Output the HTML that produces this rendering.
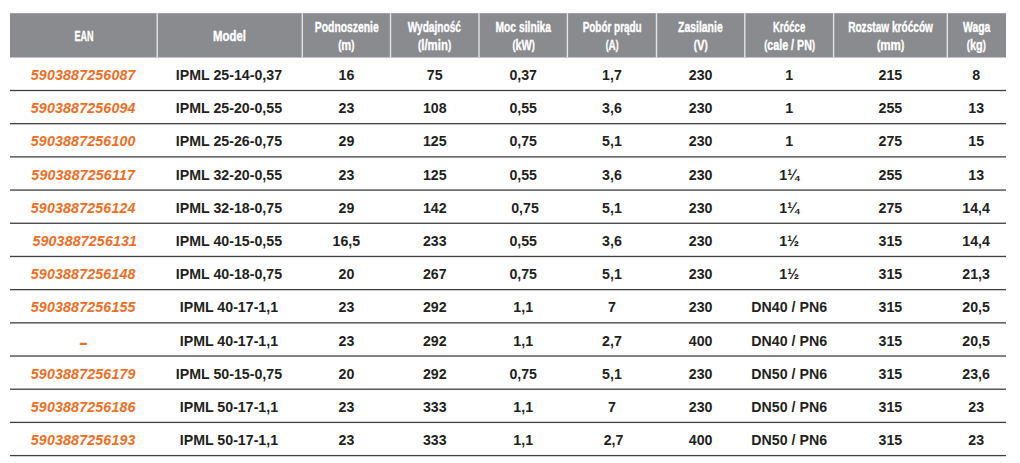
<!DOCTYPE html>
<html><head><meta charset="utf-8"><title>IPML</title>
<style>
html,body{margin:0;padding:0;background:#fff;}
body{width:1020px;height:463px;position:relative;overflow:hidden;font-family:"Liberation Sans",sans-serif;}
svg{position:absolute;left:0;top:0;}
.ht{position:absolute;width:200px;color:#fff;font-weight:bold;font-size:14.2px;line-height:18px;white-space:nowrap;text-align:center;}
.ht span{display:inline-block;-webkit-text-stroke:0.35px #fff;}
.ht i{font-style:normal;font-size:12px;line-height:10px;vertical-align:1px;}
.c{position:absolute;height:16px;line-height:16px;font-size:14.2px;font-weight:bold;color:#231f20;text-align:center;white-space:nowrap;}
.e{color:#f06e1f;font-style:italic;letter-spacing:0.17px;text-indent:-0.8px;}
.dash{display:inline-block;transform:translateY(1.6px) scaleY(1.5);}
</style></head><body>

<svg width="1020" height="463" viewBox="0 0 1020 463">
<rect x="10.00" y="13.20" width="996.00" height="44.30" fill="#8a8b8f"/>
<rect x="156.50" y="13.20" width="1.4" height="44.30" fill="#e2e3e6"/>
<rect x="301.60" y="13.20" width="1.4" height="44.30" fill="#e2e3e6"/>
<rect x="389.80" y="13.20" width="1.4" height="44.30" fill="#e2e3e6"/>
<rect x="478.30" y="13.20" width="1.4" height="44.30" fill="#e2e3e6"/>
<rect x="566.70" y="13.20" width="1.4" height="44.30" fill="#e2e3e6"/>
<rect x="655.80" y="13.20" width="1.4" height="44.30" fill="#e2e3e6"/>
<rect x="744.10" y="13.20" width="1.4" height="44.30" fill="#e2e3e6"/>
<rect x="832.90" y="13.20" width="1.4" height="44.30" fill="#e2e3e6"/>
<rect x="946.60" y="13.20" width="1.4" height="44.30" fill="#e2e3e6"/>
<rect x="10" y="89.85" width="996" height="1.3" fill="#404040"/>
<rect x="10" y="123.04" width="996" height="1.3" fill="#404040"/>
<rect x="10" y="156.23" width="996" height="1.3" fill="#404040"/>
<rect x="10" y="189.42" width="996" height="1.3" fill="#404040"/>
<rect x="10" y="222.61" width="996" height="1.3" fill="#404040"/>
<rect x="10" y="255.80" width="996" height="1.3" fill="#404040"/>
<rect x="10" y="288.99" width="996" height="1.3" fill="#404040"/>
<rect x="10" y="322.18" width="996" height="1.3" fill="#404040"/>
<rect x="10" y="355.37" width="996" height="1.3" fill="#404040"/>
<rect x="10" y="388.56" width="996" height="1.3" fill="#404040"/>
<rect x="10" y="421.75" width="996" height="1.3" fill="#404040"/>
<rect x="10" y="454.94" width="996" height="1.3" fill="#404040"/>
</svg>
<div class="ht" style="left:-16.40px;top:27.00px"><span style="transform:scaleX(0.640)">EAN</span></div>
<div class="ht" style="left:129.75px;top:27.00px"><span style="transform:scaleX(0.800)">Model</span></div>
<div class="ht" style="left:246.40px;top:18.00px"><span style="transform:scaleX(0.730)">Podnoszenie</span><br><span style="transform:scaleX(0.785)"><i>(</i>m<i>)</i></span></div>
<div class="ht" style="left:334.75px;top:18.00px"><span style="transform:scaleX(0.715)">Wydajność</span><br><span style="transform:scaleX(0.805)"><i>(</i>l/min<i>)</i></span></div>
<div class="ht" style="left:423.20px;top:18.00px"><span style="transform:scaleX(0.725)">Moc silnika</span><br><span style="transform:scaleX(0.760)"><i>(</i>kW<i>)</i></span></div>
<div class="ht" style="left:511.95px;top:18.00px"><span style="transform:scaleX(0.700)">Pobór prądu</span><br><span style="transform:scaleX(0.700)"><i>(</i>A<i>)</i></span></div>
<div class="ht" style="left:600.65px;top:18.00px"><span style="transform:scaleX(0.735)">Zasilanie</span><br><span style="transform:scaleX(0.800)"><i>(</i>V<i>)</i></span></div>
<div class="ht" style="left:689.20px;top:18.00px"><span style="transform:scaleX(0.670)">Króćce</span><br><span style="transform:scaleX(0.756)"><i>(</i>cale / PN<i>)</i></span></div>
<div class="ht" style="left:790.45px;top:18.00px"><span style="transform:scaleX(0.712)">Rozstaw króćców</span><br><span style="transform:scaleX(0.815)"><i>(</i>mm<i>)</i></span></div>
<div class="ht" style="left:876.65px;top:18.00px"><span style="transform:scaleX(0.730)">Waga</span><br><span style="transform:scaleX(0.770)"><i>(</i>kg<i>)</i></span></div>
<div class="c e" style="left:10.00px;width:147.20px;top:67.00px">5903887256087</div>
<div class="c" style="left:156.40px;width:145.10px;top:67.00px">IPML 25-14-0,37</div>
<div class="c" style="left:302.30px;width:88.20px;top:67.00px">16</div>
<div class="c" style="left:390.50px;width:88.50px;top:67.00px">75</div>
<div class="c" style="left:479.00px;width:88.40px;top:67.00px">0,37</div>
<div class="c" style="left:567.40px;width:89.10px;top:67.00px">1,7</div>
<div class="c" style="left:656.50px;width:88.30px;top:67.00px">230</div>
<div class="c" style="left:744.80px;width:88.80px;top:67.00px">1</div>
<div class="c" style="left:833.60px;width:113.70px;top:67.00px">215</div>
<div class="c" style="left:946.80px;width:58.70px;top:67.00px">8</div>
<div class="c e" style="left:10.00px;width:147.20px;top:100.00px">5903887256094</div>
<div class="c" style="left:156.40px;width:145.10px;top:100.00px">IPML 25-20-0,55</div>
<div class="c" style="left:302.30px;width:88.20px;top:100.00px">23</div>
<div class="c" style="left:390.50px;width:88.50px;top:100.00px">108</div>
<div class="c" style="left:479.00px;width:88.40px;top:100.00px">0,55</div>
<div class="c" style="left:567.40px;width:89.10px;top:100.00px">3,6</div>
<div class="c" style="left:656.50px;width:88.30px;top:100.00px">230</div>
<div class="c" style="left:744.80px;width:88.80px;top:100.00px">1</div>
<div class="c" style="left:833.60px;width:113.70px;top:100.00px">255</div>
<div class="c" style="left:946.80px;width:58.70px;top:100.00px">13</div>
<div class="c e" style="left:10.00px;width:147.20px;top:133.00px">5903887256100</div>
<div class="c" style="left:156.40px;width:145.10px;top:133.00px">IPML 25-26-0,75</div>
<div class="c" style="left:302.30px;width:88.20px;top:133.00px">29</div>
<div class="c" style="left:390.50px;width:88.50px;top:133.00px">125</div>
<div class="c" style="left:479.00px;width:88.40px;top:133.00px">0,75</div>
<div class="c" style="left:567.40px;width:89.10px;top:133.00px">5,1</div>
<div class="c" style="left:656.50px;width:88.30px;top:133.00px">230</div>
<div class="c" style="left:744.80px;width:88.80px;top:133.00px">1</div>
<div class="c" style="left:833.60px;width:113.70px;top:133.00px">275</div>
<div class="c" style="left:946.80px;width:58.70px;top:133.00px">15</div>
<div class="c e" style="left:10.00px;width:147.20px;top:167.00px">5903887256117</div>
<div class="c" style="left:156.40px;width:145.10px;top:167.00px">IPML 32-20-0,55</div>
<div class="c" style="left:302.30px;width:88.20px;top:167.00px">23</div>
<div class="c" style="left:390.50px;width:88.50px;top:167.00px">125</div>
<div class="c" style="left:479.00px;width:88.40px;top:167.00px">0,55</div>
<div class="c" style="left:567.40px;width:89.10px;top:167.00px">3,6</div>
<div class="c" style="left:656.50px;width:88.30px;top:167.00px">230</div>
<div class="c" style="left:744.80px;width:88.80px;top:167.00px">1¼</div>
<div class="c" style="left:833.60px;width:113.70px;top:167.00px">255</div>
<div class="c" style="left:946.80px;width:58.70px;top:167.00px">13</div>
<div class="c e" style="left:10.00px;width:147.20px;top:200.00px">5903887256124</div>
<div class="c" style="left:156.40px;width:145.10px;top:200.00px">IPML 32-18-0,75</div>
<div class="c" style="left:302.30px;width:88.20px;top:200.00px">29</div>
<div class="c" style="left:390.50px;width:88.50px;top:200.00px">142</div>
<div class="c" style="left:480.80px;width:88.40px;top:200.00px">0,75</div>
<div class="c" style="left:567.40px;width:89.10px;top:200.00px">5,1</div>
<div class="c" style="left:656.50px;width:88.30px;top:200.00px">230</div>
<div class="c" style="left:744.80px;width:88.80px;top:200.00px">1¼</div>
<div class="c" style="left:833.60px;width:113.70px;top:200.00px">275</div>
<div class="c" style="left:946.80px;width:58.70px;top:200.00px">14,4</div>
<div class="c e" style="left:11.60px;width:147.20px;top:233.00px">5903887256131</div>
<div class="c" style="left:156.40px;width:145.10px;top:233.00px">IPML 40-15-0,55</div>
<div class="c" style="left:302.30px;width:88.20px;top:233.00px">16,5</div>
<div class="c" style="left:390.50px;width:88.50px;top:233.00px">233</div>
<div class="c" style="left:479.00px;width:88.40px;top:233.00px">0,55</div>
<div class="c" style="left:567.40px;width:89.10px;top:233.00px">3,6</div>
<div class="c" style="left:656.50px;width:88.30px;top:233.00px">230</div>
<div class="c" style="left:744.80px;width:88.80px;top:233.00px">1½</div>
<div class="c" style="left:833.60px;width:113.70px;top:233.00px">315</div>
<div class="c" style="left:946.80px;width:58.70px;top:233.00px">14,4</div>
<div class="c e" style="left:10.00px;width:147.20px;top:266.00px">5903887256148</div>
<div class="c" style="left:156.40px;width:145.10px;top:266.00px">IPML 40-18-0,75</div>
<div class="c" style="left:302.30px;width:88.20px;top:266.00px">20</div>
<div class="c" style="left:390.50px;width:88.50px;top:266.00px">267</div>
<div class="c" style="left:479.00px;width:88.40px;top:266.00px">0,75</div>
<div class="c" style="left:567.40px;width:89.10px;top:266.00px">5,1</div>
<div class="c" style="left:656.50px;width:88.30px;top:266.00px">230</div>
<div class="c" style="left:744.80px;width:88.80px;top:266.00px">1½</div>
<div class="c" style="left:833.60px;width:113.70px;top:266.00px">315</div>
<div class="c" style="left:946.80px;width:58.70px;top:266.00px">21,3</div>
<div class="c e" style="left:10.00px;width:147.20px;top:299.00px">5903887256155</div>
<div class="c" style="left:156.40px;width:145.10px;top:299.00px">IPML 40-17-1,1</div>
<div class="c" style="left:302.30px;width:88.20px;top:299.00px">23</div>
<div class="c" style="left:390.50px;width:88.50px;top:299.00px">292</div>
<div class="c" style="left:479.00px;width:88.40px;top:299.00px">1,1</div>
<div class="c" style="left:567.40px;width:89.10px;top:299.00px">7</div>
<div class="c" style="left:656.50px;width:88.30px;top:299.00px">230</div>
<div class="c" style="left:744.80px;width:88.80px;top:299.00px">DN40 / PN6</div>
<div class="c" style="left:833.60px;width:113.70px;top:299.00px">315</div>
<div class="c" style="left:946.80px;width:58.70px;top:299.00px">20,5</div>
<div class="c e" style="left:10.00px;width:147.20px;top:333.00px"><span class="dash" style="margin-left:1.6px">–</span></div>
<div class="c" style="left:156.40px;width:145.10px;top:333.00px">IPML 40-17-1,1</div>
<div class="c" style="left:302.30px;width:88.20px;top:333.00px">23</div>
<div class="c" style="left:390.50px;width:88.50px;top:333.00px">292</div>
<div class="c" style="left:479.00px;width:88.40px;top:333.00px">1,1</div>
<div class="c" style="left:567.40px;width:89.10px;top:333.00px">2,7</div>
<div class="c" style="left:656.50px;width:88.30px;top:333.00px">400</div>
<div class="c" style="left:744.80px;width:88.80px;top:333.00px">DN40 / PN6</div>
<div class="c" style="left:833.60px;width:113.70px;top:333.00px">315</div>
<div class="c" style="left:946.80px;width:58.70px;top:333.00px">20,5</div>
<div class="c e" style="left:10.00px;width:147.20px;top:366.00px">5903887256179</div>
<div class="c" style="left:156.40px;width:145.10px;top:366.00px">IPML 50-15-0,75</div>
<div class="c" style="left:302.30px;width:88.20px;top:366.00px">20</div>
<div class="c" style="left:390.50px;width:88.50px;top:366.00px">292</div>
<div class="c" style="left:479.00px;width:88.40px;top:366.00px">0,75</div>
<div class="c" style="left:567.40px;width:89.10px;top:366.00px">5,1</div>
<div class="c" style="left:656.50px;width:88.30px;top:366.00px">230</div>
<div class="c" style="left:744.80px;width:88.80px;top:366.00px">DN50 / PN6</div>
<div class="c" style="left:833.60px;width:113.70px;top:366.00px">315</div>
<div class="c" style="left:946.80px;width:58.70px;top:366.00px">23,6</div>
<div class="c e" style="left:10.00px;width:147.20px;top:399.00px">5903887256186</div>
<div class="c" style="left:156.40px;width:145.10px;top:399.00px">IPML 50-17-1,1</div>
<div class="c" style="left:302.30px;width:88.20px;top:399.00px">23</div>
<div class="c" style="left:390.50px;width:88.50px;top:399.00px">333</div>
<div class="c" style="left:479.00px;width:88.40px;top:399.00px">1,1</div>
<div class="c" style="left:567.40px;width:89.10px;top:399.00px">7</div>
<div class="c" style="left:656.50px;width:88.30px;top:399.00px">230</div>
<div class="c" style="left:744.80px;width:88.80px;top:399.00px">DN50 / PN6</div>
<div class="c" style="left:833.60px;width:113.70px;top:399.00px">315</div>
<div class="c" style="left:946.80px;width:58.70px;top:399.00px">23</div>
<div class="c e" style="left:10.00px;width:147.20px;top:432.00px">5903887256193</div>
<div class="c" style="left:156.40px;width:145.10px;top:432.00px">IPML 50-17-1,1</div>
<div class="c" style="left:302.30px;width:88.20px;top:432.00px">23</div>
<div class="c" style="left:390.50px;width:88.50px;top:432.00px">333</div>
<div class="c" style="left:479.00px;width:88.40px;top:432.00px">1,1</div>
<div class="c" style="left:569.00px;width:89.10px;top:432.00px">2,7</div>
<div class="c" style="left:656.50px;width:88.30px;top:432.00px">400</div>
<div class="c" style="left:744.80px;width:88.80px;top:432.00px">DN50 / PN6</div>
<div class="c" style="left:833.60px;width:113.70px;top:432.00px">315</div>
<div class="c" style="left:946.80px;width:58.70px;top:432.00px">23</div>
</body></html>
